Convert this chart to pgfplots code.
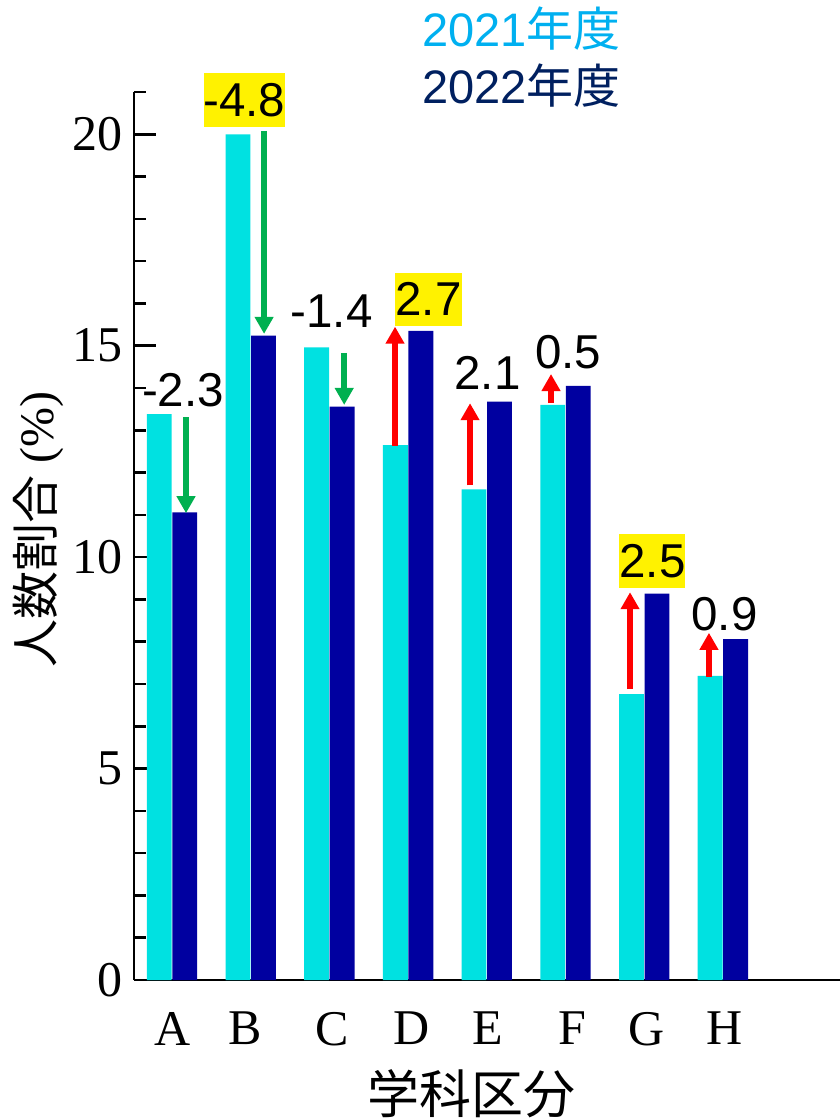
\documentclass[border=0pt]{standalone}
\usepackage{fontspec}
\setmainfont{Liberation Serif}
\setsansfont{Liberation Sans}
\newfontfamily\cjk{Noto Sans CJK JP}
\usepackage{pgfplots}
\pgfplotsset{compat=1.18}
\usepackage{pgfplotstable}
\usetikzlibrary{arrows.meta}
\definecolor{barcyan}{RGB}{0,225,225}
\definecolor{barnavy}{RGB}{0,0,160}
\definecolor{arrgreen}{RGB}{0,176,80}
\definecolor{arrred}{RGB}{255,0,0}
\definecolor{leg21}{RGB}{0,176,240}
\definecolor{leg22}{RGB}{0,32,96}

\pgfplotstableread{
x y21 y22
0 13.38 11.06
1 20.00 15.24
2 14.96 13.56
3 12.65 15.35
4 11.60 13.68
5 13.60 14.05
6 6.76 9.14
7 7.19 8.06
}\bars

\pgfplotstableread{
x y u v
0.178 13.31 0 -2.27
1.170 20.08 0 -4.80
2.188 14.83 0 -1.23
}\downarrows

\pgfplotstableread{
x y u v
2.834 12.63 0 2.82
3.787 11.70 0 1.94
4.816 13.64 0 0.69
5.820 6.88 0 2.29
6.823 7.16 0 1.05
}\uparrows

\pgfplotstableread{
x y label
0.140 13.95 -2.3
2.027 15.82 -1.4
4.009 14.35 2.1
5.032 14.85 0.5
7.020 8.65 0.9
}\plainlabels

\pgfplotstableread{
x y label
0.921 20.81 -4.8
3.259 16.10 2.7
6.105 9.91 2.5
}\hllabels

\begin{document}
\begin{tikzpicture}
\useasboundingbox (-134bp,-138bp) rectangle (706bp,980bp);
\begin{axis}[
  scale only axis,
  width=706bp, height=888bp,
  xmin=-0.483, xmax=8.488,
  ymin=0, ymax=21,
  clip=false,
  axis x line*=bottom, axis y line*=left,
  axis line style={line width=2.5bp, black, -},
  xtick={0.006,0.927,2.033,3.043,4.016,5.083,6.036,7.027},
  xticklabels={A,B,C,D,E,F,G,H},
  xtick style={draw=none},
  ytick={0,5,10,15,20},
  minor ytick={0,1,...,21},
  tick align=inside,
  major tick length=22bp,
  minor tick length=12bp,
  ytick style={line width=2.5bp, black},
  minor tick style={line width=2.5bp, black},
  /pgf/number format/assume math mode=true,
  tick label style={font=\fontsize{50bp}{60bp}\selectfont},
  yticklabel style={inner sep=0pt, xshift=-11bp},
  xticklabel style={inner sep=0pt, yshift=-32bp},
  ylabel={{\cjk 人数割合} (\%)},
  ylabel style={at={(rel axis cs:0,0.507)}, anchor=center, yshift=96bp, inner sep=0pt, font=\fontsize{48bp}{56bp}\selectfont},
  xlabel={\cjk 学科区分},
  xlabel style={at={(rel axis cs:0.478,-0.128)}, anchor=center, inner sep=0pt, font=\fontsize{52bp}{60bp}\selectfont},
]
\addplot[ybar, bar width=0.316, bar shift=-0.162, fill=barcyan, draw=none] table[x=x, y=y21]{\bars};
\addplot[ybar, bar width=0.316, bar shift=0.162, fill=barnavy, draw=none] table[x=x, y=y22]{\bars};

\addplot[draw=arrgreen, line width=5.5bp, -{Triangle[width=18bp,length=17bp]},
  quiver={u=\thisrow{u}, v=\thisrow{v}}] table[x=x, y=y]{\downarrows};
\addplot[draw=arrred, line width=5.5bp, -{Triangle[width=18bp,length=17bp]},
  quiver={u=\thisrow{u}, v=\thisrow{v}}] table[x=x, y=y]{\uparrows};

\addplot[only marks, mark=none, point meta=explicit symbolic,
  nodes near coords, nodes near coords align={center},
  every node near coord/.append style={anchor=center, inner sep=0pt, text height=43bp, text depth=10.2bp,
    font=\sffamily\fontsize{47.5bp}{55bp}\selectfont, text=black}]
  table[x=x, y=y, meta=label]{\plainlabels};
\addplot[only marks, mark=none, point meta=explicit symbolic,
  nodes near coords, nodes near coords align={center},
  every node near coord/.append style={anchor=center, inner sep=0pt, text height=43bp, text depth=10.2bp,
    fill=yellow, font=\sffamily\fontsize{47.5bp}{55bp}\selectfont, text=black}]
  table[x=x, y=y, meta=label]{\hllabels};

\node[anchor=base west, inner sep=0pt, text=leg21, font=\fontsize{47bp}{54bp}\selectfont]
  at (rel axis cs:0.408,1.0507) {\sffamily 2021{\cjk 年度}};
\node[anchor=base west, inner sep=0pt, text=leg22, font=\fontsize{47bp}{54bp}\selectfont]
  at (rel axis cs:0.408,0.9876) {\sffamily 2022{\cjk 年度}};
\end{axis}
\end{tikzpicture}
\end{document}
